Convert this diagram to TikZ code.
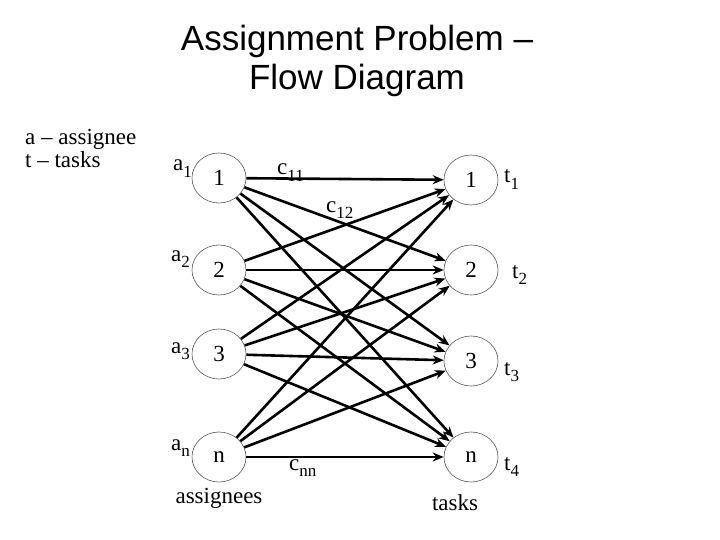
\documentclass[tikz,border=0pt]{standalone}
\usepackage{fontspec}
\setmainfont{Liberation Serif}
\newfontfamily\titlefont{Liberation Sans}
\usetikzlibrary{arrows.meta,positioning,shapes.geometric}
\newcommand{\lowsub}[1]{\raisebox{-0.3em}{\fontsize{17}{17}\selectfont #1}}

\begin{document}
\begin{tikzpicture}[
  x=1pt, y=-1pt,
  every node/.style={font=\fontsize{23}{26}\selectfont, inner sep=1pt},
  vertex/.style={ellipse, draw=black!65, line width=0.6pt, minimum width=54pt, minimum height=50pt, inner sep=0pt},
  flow/.style={-{Stealth[length=11pt, width=9pt]}, line width=2.6pt}
]
\useasboundingbox (0,0) rectangle (720,540);

% title and legend
\node[align=center, font=\titlefont\fontsize{35}{39}\selectfont, anchor=base] (title) at (357, 90) {Assignment Problem –\\Flow Diagram};
\node[align=left, font=\fontsize{23}{23}\selectfont, anchor=base west] (legend) at (24, 168) {a – assignee\\t – tasks};

% assignees
\node[vertex] (a1) at (219, 178) {1};
\node[vertex] (a2) at (219, 270) {2};
\node[vertex] (a3) at (219, 354) {3};
\node[vertex] (an) at (219, 457) {n};

% tasks
\node[vertex] (t1) at (471, 180) {1};
\node[vertex] (t2) at (471, 270) {2};
\node[vertex] (t3) at (471, 361) {3};
\node[vertex] (tn) at (471, 457) {n};

% edges
\draw[flow] (a1) -- (t1);
\draw[flow] (a1) -- (t2);
\draw[flow] (a1) -- (t3);
\draw[flow] (a1) -- (tn);
\draw[flow] (a2) -- (t1);
\draw[flow] (a2) -- (t2);
\draw[flow] (a2) -- (t3);
\draw[flow] (a2) -- (tn);
\draw[flow] (a3) -- (t1);
\draw[flow] (a3) -- (t2);
\draw[flow] (a3) -- (t3);
\draw[flow] (a3) -- (tn);
\draw[flow] (an) -- (t1);
\draw[flow] (an) -- (t2);
\draw[flow] (an) -- (t3);
\draw[flow] (an) -- (tn);

% labels
\node[anchor=base east] (la1) at (193, 171) {a\lowsub{1}};
\node[anchor=base east] (la2) at (191, 261) {a\lowsub{2}};
\node[anchor=base east] (la3) at (191, 353) {a\lowsub{3}};
\node[anchor=base east] (lan) at (191, 450) {a\lowsub{n}};

\node[anchor=base west] (lt1) at (503, 183) {t\lowsub{1}};
\node[anchor=base west] (lt2) at (511, 278) {t\lowsub{2}};
\node[anchor=base west] (lt3) at (503, 375) {t\lowsub{3}};
\node[anchor=base west] (lt4) at (503, 470) {t\lowsub{4}};

\node[anchor=base west] (c11) at (276, 175) {c\lowsub{11}};
\node[anchor=base west] (c12) at (325, 212) {c\lowsub{12}};
\node[anchor=base west] (cnn) at (288, 470) {c\lowsub{nn}};

\node[anchor=base] (left) at (219, 503) {assignees};
\node[anchor=base] (right) at (455, 510) {tasks};

\end{tikzpicture}
\end{document}
